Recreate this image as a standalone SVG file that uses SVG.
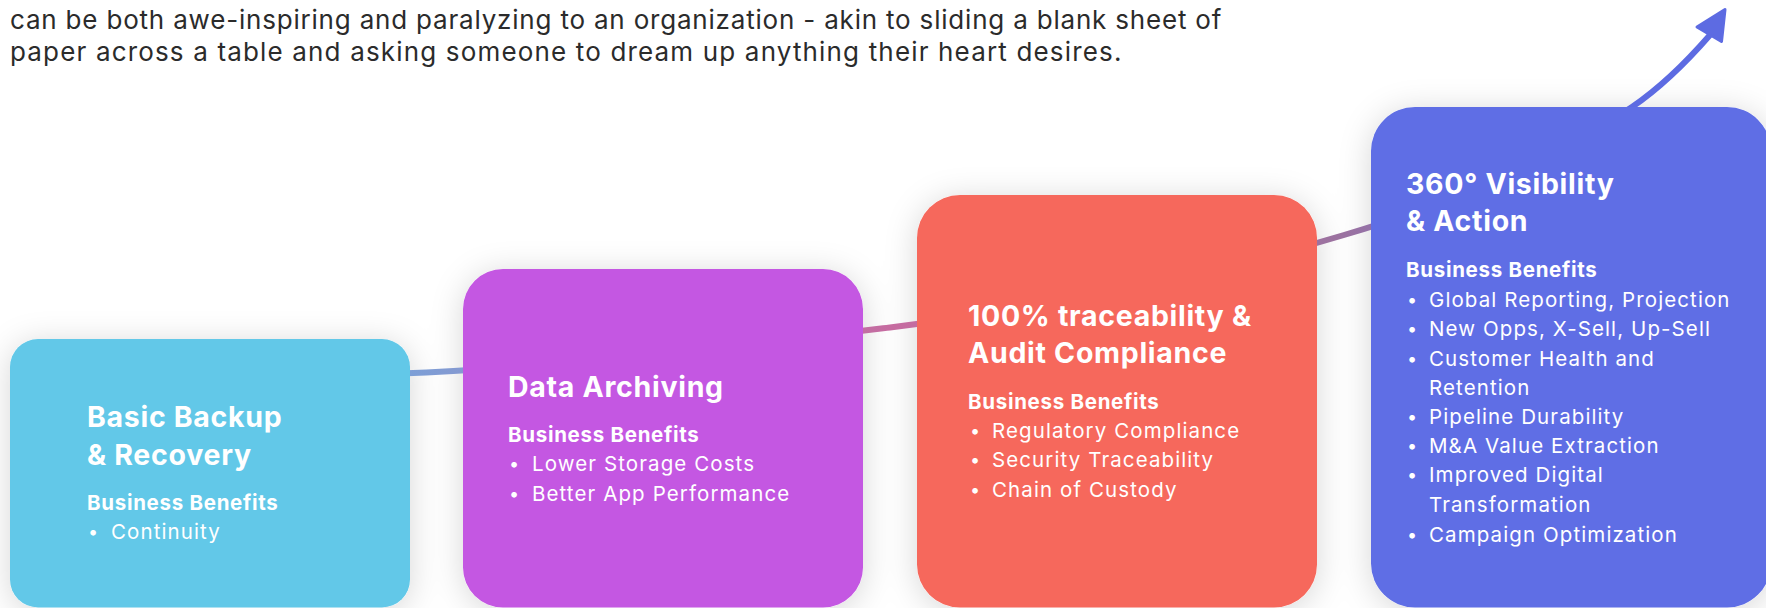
<svg xmlns="http://www.w3.org/2000/svg" width="1766" height="608" viewBox="0 0 1766 608">
  <defs>
    <filter id="soft-shadow" x="-20%" y="-20%" width="140%" height="140%">
      <feDropShadow dx="0" dy="4" stdDeviation="16" flood-color="#000" flood-opacity="0.16"/>
    </filter>
    <linearGradient id="growth-line" gradientUnits="userSpaceOnUse" x1="400" y1="0" x2="1725" y2="0">
      <stop offset="0" stop-color="#7BA0D8"/>
      <stop offset="0.37" stop-color="#C66BA0"/>
      <stop offset="0.71" stop-color="#9B72A0"/>
      <stop offset="0.93" stop-color="#5D6BE2"/>
      <stop offset="1" stop-color="#5D6BE2"/>
    </linearGradient>
    <style>
      .intro { font-family: Inter, "Liberation Sans", sans-serif; font-size: 26px; fill: #2B2B2B; letter-spacing: 0.6px; }
      .title { font-family: Inter, "Liberation Sans", sans-serif; font-size: 28.5px; font-weight: 700; fill: #FFFFFF; letter-spacing: 0.7px; }
      .head { font-family: Inter, "Liberation Sans", sans-serif; font-size: 20.5px; font-weight: 700; fill: #FFFFFF; letter-spacing: 0.7px; }
      .item { font-family: Inter, "Liberation Sans", sans-serif; font-size: 20.5px; font-weight: 400; fill: #FFFFFF; letter-spacing: 1.1px; }
      .dot { font-family: Inter, "Liberation Sans", sans-serif; font-size: 18px; fill: #FFFFFF; }
      .card { stroke: none; }
    </style>
  </defs>

  <rect width="1766" height="608" fill="#FFFFFF"/>

  <!-- intro paragraph -->
  <g id="intro">
    <text class="intro" x="10" y="29" textLength="1212" lengthAdjust="spacing">can be both awe-inspiring and paralyzing to an organization - akin to sliding a blank sheet of</text>
    <text class="intro" x="10" y="61" textLength="1112" lengthAdjust="spacing">paper across a table and asking someone to dream up anything their heart desires.</text>
  </g>

  <!-- soft shadows under the cards -->
  <g id="card-shadows" filter="url(#soft-shadow)" fill="#FFFFFF">
    <rect x="10" y="339" width="400" height="268.5" rx="28"/>
    <rect x="463" y="269" width="400" height="338.5" rx="40"/>
    <rect x="917" y="195" width="400" height="412.5" rx="43"/>
    <rect x="1371" y="107" width="400" height="500.5" rx="44"/>
  </g>

  <!-- rising growth curve running behind the cards -->
  <g id="connectors" fill="none">
    <path d="M400,373.5 C563.3,366.9 726.7,347.1 890,327.5 C1041.3,309.3 1192.7,280.4 1344,235 C1440,206.2 1536,172.3 1632,107 C1658,89.3 1684,64.9 1710,35" stroke="url(#growth-line)" stroke-width="6" stroke-linecap="butt"/>
    <path d="M1725,9.5 L1697,27 L1721.5,41.5 Z" fill="#5D6BE2" stroke="#5D6BE2" stroke-width="3" stroke-linejoin="round"/>
  </g>

  <g id="step-backup">
    <rect class="card" x="10" y="339" width="400" height="268.5" rx="28" fill="#62C8E8"/>
    <text class="title" x="87" y="427">Basic Backup</text>
    <text class="title" x="87" y="465">&amp; Recovery</text>
    <text class="head" x="87" y="510">Business Benefits</text>
    <text class="dot" x="88" y="538">•</text>
    <text class="item" x="111" y="539">Continuity</text>
  </g>

  <g id="step-archiving">
    <rect class="card" x="463" y="269" width="400" height="338.5" rx="40" fill="#C457E2"/>
    <text class="title" x="508" y="397">Data Archiving</text>
    <text class="head" x="508" y="442">Business Benefits</text>
    <text class="dot" x="509" y="470">•</text>
    <text class="item" x="532" y="471">Lower Storage Costs</text>
    <text class="dot" x="509" y="500">•</text>
    <text class="item" x="532" y="501">Better App Performance</text>
  </g>

  <g id="step-compliance">
    <rect class="card" x="917" y="195" width="400" height="412.5" rx="43" fill="#F6685C"/>
    <text class="title" x="968" y="326">100% traceability &amp;</text>
    <text class="title" x="968" y="363">Audit Compliance</text>
    <text class="head" x="968" y="409">Business Benefits</text>
    <text class="dot" x="970" y="437">•</text>
    <text class="item" x="992" y="438">Regulatory Compliance</text>
    <text class="dot" x="970" y="466">•</text>
    <text class="item" x="992" y="467">Security Traceability</text>
    <text class="dot" x="970" y="496">•</text>
    <text class="item" x="992" y="497">Chain of Custody</text>
  </g>

  <g id="step-visibility">
    <rect class="card" x="1371" y="107" width="400" height="500.5" rx="44" fill="#5F6EE5"/>
    <text class="title" x="1406" y="194">360° Visibility</text>
    <text class="title" x="1406" y="231">&amp; Action</text>
    <text class="head" x="1406" y="277">Business Benefits</text>
    <text class="dot" x="1407" y="306">•</text>
    <text class="item" x="1429" y="307">Global Reporting, Projection</text>
    <text class="dot" x="1407" y="335">•</text>
    <text class="item" x="1429" y="336">New Opps, X-Sell, Up-Sell</text>
    <text class="dot" x="1407" y="365">•</text>
    <text class="item" x="1429" y="366">Customer Health and</text>
    <text class="item" x="1429" y="395">Retention</text>
    <text class="dot" x="1407" y="423">•</text>
    <text class="item" x="1429" y="424">Pipeline Durability</text>
    <text class="dot" x="1407" y="452">•</text>
    <text class="item" x="1429" y="453">M&amp;A Value Extraction</text>
    <text class="dot" x="1407" y="481">•</text>
    <text class="item" x="1429" y="482">Improved Digital</text>
    <text class="item" x="1429" y="512">Transformation</text>
    <text class="dot" x="1407" y="541">•</text>
    <text class="item" x="1429" y="542">Campaign Optimization</text>
  </g>
</svg>
